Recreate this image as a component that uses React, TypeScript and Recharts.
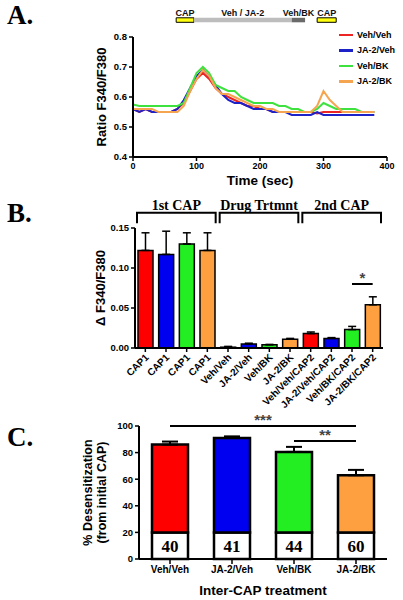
import React from 'react';
import {
  LineChart,
  Line,
  BarChart,
  Bar,
  XAxis,
  YAxis,
  ReferenceArea,
  ReferenceLine,
  ErrorBar,
  LabelList,
  Cell,
} from 'recharts';

const SANS = '"Liberation Sans", Arial, Helvetica, sans-serif';
const SERIF = '"Liberation Serif", "Times New Roman", serif';

// ---- Panel A: ratio traces (sampled every 10 s)
const timeSec = [
  0, 10, 20, 30, 40, 50, 60, 70, 80, 90, 100, 110, 120, 130, 140, 150, 160, 170, 180, 190,
  200, 210, 220, 230, 240, 250, 260, 270, 280, 290, 300, 310, 320, 330, 340, 350, 360, 370, 380,
];
const vehVehTrace = [
  0.56, 0.55, 0.56, 0.55, 0.55, 0.55, 0.55, 0.56, 0.58, 0.62, 0.66, 0.68, 0.66, 0.63, 0.61, 0.6, 0.59, 0.58, 0.57, 0.57,
  0.56, 0.56, 0.55, 0.55, 0.55, 0.55, 0.55, 0.55, 0.55, 0.545, 0.55, 0.55, 0.55, 0.55, 0.55, 0.55, 0.55, 0.55, 0.55,
];
const ja2VehTrace = [
  0.56, 0.55, 0.56, 0.55, 0.55, 0.55, 0.55, 0.56, 0.59, 0.63, 0.67, 0.69, 0.67, 0.64, 0.61, 0.59, 0.58, 0.58, 0.57, 0.56,
  0.56, 0.56, 0.55, 0.55, 0.55, 0.54, 0.54, 0.54, 0.54, 0.55, 0.54, 0.54, 0.54, 0.54, 0.54, 0.54, 0.54, 0.54, 0.54,
];
const vehBkTrace = [
  0.575, 0.57, 0.57, 0.57, 0.57, 0.57, 0.57, 0.57, 0.58, 0.63, 0.68, 0.7, 0.68, 0.64, 0.63, 0.62, 0.62, 0.6, 0.59, 0.58,
  0.58, 0.58, 0.58, 0.57, 0.57, 0.56, 0.56, 0.55, 0.55, 0.56, 0.58, 0.57, 0.56, 0.56, 0.56, 0.56, 0.55, 0.55, 0.55,
];
const ja2BkTrace = [
  0.56, 0.56, 0.56, 0.56, 0.55, 0.55, 0.55, 0.55, 0.57, 0.62, 0.66, 0.69, 0.67, 0.63, 0.61, 0.61, 0.6, 0.59, 0.58, 0.57,
  0.57, 0.56, 0.56, 0.55, 0.55, 0.55, 0.55, 0.55, 0.55, 0.57, 0.62, 0.59, 0.57, 0.55, 0.55, 0.55, 0.55, 0.55, 0.55,
];
const traceNames = ['Veh/Veh', 'JA-2/Veh', 'Veh/BK', 'JA-2/BK'];
const traceKeys = ['vv', 'jv', 'vb', 'jb'];
const traceColors = ['#ec2424', '#1c22c8', '#3ee23e', '#f5a550'];

// protocol bar drawn above the traces (times in sec)
const protocolSteps = ['CAP', 'Veh / JA-2', 'Veh/BK', 'CAP'];
const protocolStart = [68, 96, 250, 290];
const protocolEnd = [96, 250, 271, 320];
const protocolFill = ['#ffff10', '#bdbdbd', '#6a6a6a', '#ffff10'];

// ---- Panel B: delta F340/F380
const bLabels = [
  'CAP1', 'CAP1', 'CAP1', 'CAP1',
  'Veh/Veh', 'JA-2/Veh', 'Veh/BK', 'JA-2/BK',
  'Veh/Veh/CAP2', 'JA-2/Veh/CAP2', 'Veh/BK/CAP2', 'JA-2/BK/CAP2',
];
const bMeans = [0.122, 0.117, 0.13, 0.122, 0.001, 0.005, 0.004, 0.011, 0.018, 0.012, 0.023, 0.054];
const bErrors = [0.022, 0.029, 0.014, 0.022, 0.001, 0.001, 0.0005, 0.001, 0.002, 0.001, 0.004, 0.01];
const bGroups = ['1st CAP', 'Drug Trtmnt', '2nd CAP'];

// ---- Panel C: % desensitization
const cCategories = ['Veh/Veh', 'JA-2/Veh', 'Veh/BK', 'JA-2/BK'];
const cMeans = [86, 91, 80.5, 63];
const cErrors = [2.3, 1.2, 3.8, 4];
const cCounts = [40, 41, 44, 60];
const cBase = 20;

const barColors = ['#ff0000', '#0000f0', '#22ee22', '#ffa040'];

const traceRows = timeSec.map((t, i) => ({
  t,
  vv: vehVehTrace[i],
  jv: ja2VehTrace[i],
  vb: vehBkTrace[i],
  jb: ja2BkTrace[i],
}));

const bRows = bLabels.map((label, i) => ({
  id: `b${i}`,
  label,
  mean: bMeans[i],
  err: [0, bErrors[i]],
}));

const cRows = cCategories.map((name, i) => ({
  name,
  base: cBase,
  rest: cMeans[i] - cBase,
  err: [0, cErrors[i]],
  n: cCounts[i],
}));

const axisLine = { stroke: '#000', strokeWidth: 2 };
const tickLine = { stroke: '#000', strokeWidth: 1.5 };

function AxisTitle(props: any) {
  const { viewBox, lines, at, vertical, size, gap = 14 } = props;
  const vb = viewBox || { x: 0, y: 0, width: 0, height: 0 };
  const common = {
    textAnchor: 'middle' as const,
    dominantBaseline: 'central' as const,
    fontFamily: SANS,
    fontWeight: 'bold',
    fontSize: size,
    fill: '#000',
  };
  if (vertical) {
    const cy = vb.y + vb.height / 2;
    return (
      <g>
        {lines.map((t: string, i: number) => {
          const x = at + i * gap;
          return (
            <text key={i} x={x} y={cy} transform={`rotate(-90 ${x} ${cy})`} {...common}>
              {t}
            </text>
          );
        })}
      </g>
    );
  }
  const cx = vb.x + vb.width / 2;
  return (
    <text x={cx} y={at} {...common}>
      {lines[0]}
    </text>
  );
}

function Bracket(props: any) {
  const { x, y, width, height } = props;
  const l = x + 2;
  const r = x + width - 2;
  return (
    <path
      d={`M${l},${y + height} L${l},${y} L${r},${y} L${r},${y + height}`}
      fill="none"
      stroke="#000"
      strokeWidth={2}
    />
  );
}

function BTick(props: any) {
  const { x, y, payload } = props;
  const ax = x + 4;
  const ay = y + 4;
  return (
    <text
      x={ax}
      y={ay}
      textAnchor="end"
      transform={`rotate(-45 ${ax} ${ay})`}
      fontFamily={SANS}
      fontWeight="bold"
      fontSize={10}
      fill="#000"
    >
      {bLabels[payload.index]}
    </text>
  );
}

const tickFont = (size: number) => ({
  fill: '#000',
  fontSize: size,
  fontWeight: 'bold',
  fontFamily: SANS,
});

const panelLetter = (letter: string, top: number) => (
  <div
    style={{
      position: 'absolute',
      left: 7,
      top,
      fontFamily: SERIF,
      fontWeight: 'bold',
      fontSize: 27,
      lineHeight: '27px',
      color: '#000',
    }}
  >
    {letter}
  </div>
);

const starLabel = (value: string) => ({
  value,
  position: 'top' as const,
  offset: 1,
  fill: '#444',
  fontSize: 15,
  fontWeight: 'bold',
  fontFamily: SANS,
});

export default function App() {
  return (
    <div
      style={{
        position: 'absolute',
        left: 0,
        top: 0,
        width: 403,
        height: 600,
        background: '#fff',
        overflow: 'hidden',
      }}
    >
      {panelLetter('A.', 2)}
      {panelLetter('B.', 200)}
      {panelLetter('C.', 424)}

      {/* Panel A */}
      <div style={{ position: 'absolute', left: 0, top: 0 }}>
        <LineChart width={403} height={200} data={traceRows} margin={{ top: 37, right: 16, bottom: 13, left: 83 }}>
          <XAxis
            dataKey="t"
            type="number"
            domain={[0, 400]}
            ticks={[0, 100, 200, 300, 400]}
            height={30}
            tick={tickFont(9)}
            tickSize={4}
            axisLine={axisLine}
            tickLine={tickLine}
            label={{ content: (p: any) => <AxisTitle {...p} lines={['Time (sec)']} at={180} size={13.5} /> }}
          />
          <YAxis
            domain={[0.4, 0.8]}
            ticks={[0.4, 0.5, 0.6, 0.7, 0.8]}
            width={50}
            tick={tickFont(9.5)}
            tickSize={4}
            tickFormatter={(v) => Number(v).toFixed(1)}
            axisLine={axisLine}
            tickLine={tickLine}
            label={{ content: (p: any) => <AxisTitle {...p} lines={['Ratio F340/F380']} at={101} vertical size={13} /> }}
          />
          {protocolSteps.map((step, i) => (
            <ReferenceArea
              key={i}
              x1={protocolStart[i]}
              x2={protocolEnd[i]}
              y1={0.849}
              y2={0.864}
              ifOverflow="visible"
              fill={protocolFill[i]}
              fillOpacity={1}
              stroke={step === 'CAP' ? '#000' : 'none'}
              strokeWidth={1}
              label={{
                value: step,
                position: 'top',
                offset: 2,
                fill: '#111',
                fontSize: 9,
                fontWeight: 'bold',
                fontFamily: SANS,
              }}
            />
          ))}
          {traceKeys.map((k, i) => (
            <Line
              key={k}
              dataKey={k}
              name={traceNames[i]}
              type="linear"
              stroke={traceColors[i]}
              strokeWidth={2}
              dot={false}
              isAnimationActive={false}
            />
          ))}
        </LineChart>
      </div>

      {/* legend for panel A */}
      <div style={{ position: 'absolute', left: 339, top: 27, fontFamily: SANS }}>
        {traceNames.map((name, i) => (
          <div key={name} style={{ display: 'flex', alignItems: 'center', height: 15.5 }}>
            <span style={{ display: 'inline-block', width: 14, height: 2.5, background: traceColors[i] }} />
            <span style={{ marginLeft: 4, fontSize: 9, fontWeight: 'bold', color: '#000' }}>{name}</span>
          </div>
        ))}
      </div>

      {/* Panel B */}
      <div style={{ position: 'absolute', left: 0, top: 190 }}>
        <BarChart width={403} height={230} data={bRows} margin={{ top: 38, right: 20, bottom: 0, left: 85 }}>
          <XAxis
            dataKey="id"
            interval={0}
            height={72}
            tick={<BTick />}
            tickSize={4}
            axisLine={axisLine}
            tickLine={tickLine}
          />
          <YAxis
            domain={[0, 0.15]}
            ticks={[0, 0.05, 0.1, 0.15]}
            width={50}
            tick={tickFont(9.5)}
            tickSize={4}
            tickFormatter={(v) => Number(v).toFixed(2)}
            axisLine={axisLine}
            tickLine={tickLine}
            label={{ content: (p: any) => <AxisTitle {...p} lines={['Δ F340/F380']} at={100} vertical size={13} /> }}
          />
          {bGroups.map((g, i) => (
            <ReferenceArea
              key={g}
              x1={`b${i * 4}`}
              x2={`b${i * 4 + 3}`}
              y1={0.156}
              y2={0.169}
              ifOverflow="visible"
              shape={<Bracket />}
              label={{
                value: g,
                position: 'top',
                offset: 3,
                fill: '#000',
                fontSize: 14,
                fontWeight: 'bold',
                fontFamily: SERIF,
              }}
            />
          ))}
          <Bar dataKey="mean" barSize={15} stroke="#000" strokeWidth={1.5} isAnimationActive={false}>
            {bRows.map((r, i) => (
              <Cell key={r.id} fill={barColors[i % 4]} />
            ))}
            <ErrorBar dataKey="err" width={4} stroke="#000" strokeWidth={1.5} />
          </Bar>
          <ReferenceLine
            segment={[
              { x: 'b10', y: 0.08 },
              { x: 'b11', y: 0.08 },
            ]}
            stroke="#000"
            strokeWidth={2}
            ifOverflow="visible"
            label={starLabel('*')}
          />
        </BarChart>
      </div>

      {/* Panel C */}
      <div style={{ position: 'absolute', left: 0, top: 410 }}>
        <BarChart width={403} height={190} data={cRows} margin={{ top: 16, right: 16, bottom: 0, left: 89 }}>
          <XAxis
            dataKey="name"
            interval={0}
            height={41}
            tick={tickFont(10)}
            tickSize={5}
            axisLine={axisLine}
            tickLine={tickLine}
            label={{ content: (p: any) => <AxisTitle {...p} lines={['Inter-CAP treatment']} at={180} size={13.5} /> }}
          />
          <YAxis
            domain={[0, 100]}
            ticks={[0, 20, 40, 60, 80, 100]}
            width={50}
            tick={tickFont(9.5)}
            tickSize={4}
            axisLine={axisLine}
            tickLine={tickLine}
            label={{
              content: (p: any) => (
                <AxisTitle {...p} lines={['% Desensitization', '(from initial CAP)']} at={88} gap={14} vertical size={12.5} />
              ),
            }}
          />
          <Bar dataKey="base" stackId="s" barSize={36} fill="#fff" stroke="#000" strokeWidth={2.5} isAnimationActive={false}>
            <LabelList
              dataKey="n"
              position="center"
              fill="#000"
              fontSize={17}
              fontWeight="bold"
              fontFamily={SERIF}
            />
          </Bar>
          <Bar dataKey="rest" stackId="s" barSize={36} stroke="#000" strokeWidth={2.5} isAnimationActive={false}>
            {cRows.map((r, i) => (
              <Cell key={r.name} fill={barColors[i]} />
            ))}
            <ErrorBar dataKey="err" width={8} stroke="#000" strokeWidth={2} />
          </Bar>
          <ReferenceLine
            segment={[
              { x: 'Veh/Veh', y: 100 },
              { x: 'JA-2/BK', y: 100 },
            ]}
            stroke="#000"
            strokeWidth={2}
            ifOverflow="visible"
            label={starLabel('***')}
          />
          <ReferenceLine
            segment={[
              { x: 'Veh/BK', y: 88.7 },
              { x: 'JA-2/BK', y: 88.7 },
            ]}
            stroke="#000"
            strokeWidth={2}
            ifOverflow="visible"
            label={starLabel('**')}
          />
        </BarChart>
      </div>
    </div>
  );
}
